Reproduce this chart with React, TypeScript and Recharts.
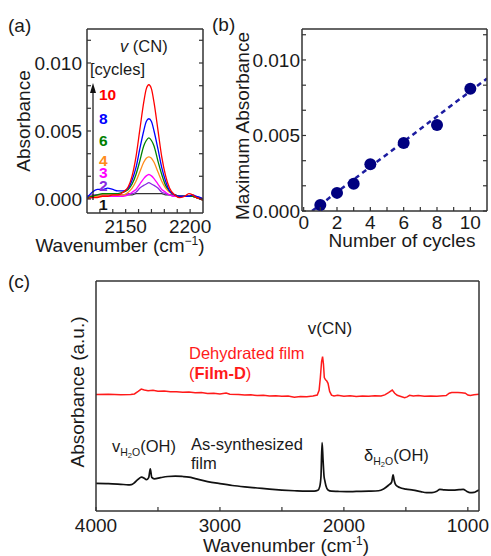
import React from 'react';
import { LineChart, ComposedChart, Line, Scatter, XAxis, YAxis } from 'recharts';

const FONT = '"Liberation Sans", Arial, Helvetica, sans-serif';
const W = 491;
const H = 556;
const FRAME = '#333333';
const TEXT = '#1a1a1a';

// ---------- Panel (a): spectra around v(CN) ----------
const WAVENUMBER_A = [2120, 2124, 2128, 2132, 2136, 2140, 2144, 2148, 2152, 2155, 2158, 2161, 2164, 2166, 2168, 2170, 2172, 2175, 2178, 2181, 2184, 2188, 2192, 2196, 2199, 2202, 2205, 2208, 2210];
const CYCLE_1 = [0.0002, 0.0002, 0.0003, 0.0003, 0.0003, 0.0003, 0.0003, 0.0003, 0.0003, 0.0003, 0.0004, 0.0004, 0.0004, 0.0004, 0.0004, 0.0004, 0.0004, 0.0004, 0.0004, 0.0003, 0.0003, 0.0003, 0.0002, 0.0002, 0.0002, 0.0002, 0.0001, 0.0, -0.0001];
const CYCLE_2 = [0.0002, 0.0003, 0.0003, 0.0003, 0.0003, 0.0003, 0.0003, 0.0003, 0.0004, 0.0004, 0.0005, 0.0008, 0.001, 0.0011, 0.0012, 0.0011, 0.001, 0.0008, 0.0005, 0.0004, 0.0003, 0.0002, 0.0002, 0.0002, 0.0002, 0.0002, 0.0001, 0.0001, 0.0];
const CYCLE_3 = [0.0001, 0.0001, 0.0002, 0.0002, 0.0002, 0.0002, 0.0002, 0.0002, 0.0003, 0.0005, 0.0007, 0.0011, 0.0015, 0.0017, 0.0018, 0.0017, 0.0015, 0.0011, 0.0007, 0.0005, 0.0003, 0.0002, 0.0002, 0.0002, 0.0002, 0.0002, 0.0001, 0.0001, 0.0];
const CYCLE_4 = [0.0001, 0.0002, 0.0002, 0.0003, 0.0003, 0.0003, 0.0003, 0.0003, 0.0005, 0.0008, 0.0013, 0.002, 0.0027, 0.003, 0.0031, 0.003, 0.0027, 0.002, 0.0013, 0.0008, 0.0005, 0.0003, 0.0002, 0.0002, 0.0002, 0.0002, 0.0001, 0.0001, 0.0];
const CYCLE_6 = [0.0001, 0.0002, 0.0003, 0.0004, 0.0004, 0.0004, 0.0004, 0.0005, 0.0007, 0.0011, 0.0018, 0.0028, 0.0039, 0.0043, 0.0045, 0.0043, 0.0039, 0.0028, 0.0018, 0.001, 0.0006, 0.0003, 0.0002, 0.0002, 0.0002, 0.0002, 0.0001, 0.0, -0.0001];
const CYCLE_8 = [0.0001, 0.0005, 0.0007, 0.0007, 0.0008, 0.0007, 0.0006, 0.0006, 0.0008, 0.0014, 0.0023, 0.0037, 0.005, 0.0057, 0.0059, 0.0057, 0.005, 0.0037, 0.0023, 0.0013, 0.0006, 0.0003, 0.0002, 0.0002, 0.0002, 0.0003, 0.0002, 0.0001, 0.0];
const CYCLE_10 = [0.0, 0.0001, 0.0001, 0.0002, 0.0002, 0.0003, 0.0003, 0.0005, 0.0009, 0.0017, 0.0031, 0.0051, 0.0071, 0.0081, 0.0084, 0.0081, 0.0071, 0.0051, 0.0031, 0.0017, 0.0008, 0.0003, 0.0001, 0.0002, 0.0004, 0.0003, 0.0001, 0.0, -0.0001];

const SERIES_A = [
  { key: 'c1', values: CYCLE_1, color: '#333333' },
  { key: 'c2', values: CYCLE_2, color: '#8a2be2' },
  { key: 'c3', values: CYCLE_3, color: '#ff00ff' },
  { key: 'c4', values: CYCLE_4, color: '#ff8c1a' },
  { key: 'c6', values: CYCLE_6, color: '#008000' },
  { key: 'c8', values: CYCLE_8, color: '#0000ff' },
  { key: 'c10', values: CYCLE_10, color: '#ff0000' },
];
const CYCLE_LABELS = ['10', '8', '6', '4', '3', '2', '1'];
const CYCLE_LABEL_COLORS = ['#ff0000', '#0000ff', '#008000', '#ff8c1a', '#ff00ff', '#8a2be2', '#111111'];

const TABLE_A = WAVENUMBER_A.map((w, i) => {
  const row: Record<string, number> = { w };
  SERIES_A.forEach((s) => {
    row[s.key] = s.values[i];
  });
  return row;
});

const DOMAIN_A_X = [2120, 2210];
const DOMAIN_A_Y = [-0.00103, 0.0125];
const TICKS_A_X = [2130, 2140, 2150, 2160, 2170, 2180, 2190, 2200];
const MAJOR_A_X = [2150, 2200];
const TICKS_ABS = [0, 0.00167, 0.00333, 0.005, 0.00667, 0.00833, 0.01, 0.01167];
const MAJOR_ABS = [0, 0.005, 0.01];

// ---------- Panel (b): max absorbance vs cycles ----------
const CYCLES = [1, 2, 3, 4, 6, 8, 10];
const MAX_ABS = [0.0004, 0.0012, 0.0018, 0.0031, 0.0045, 0.0057, 0.0081];
const FIT_X = [0.5, 11];
const FIT_Y = [0, 0.00877];
const DOMAIN_B_X = [-0.1, 11];
const DOMAIN_B_Y = [0, 0.01205];
const TICKS_B_X = [0, 1, 2, 3, 4, 5, 6, 7, 8, 9, 10];
const MAJOR_B_X = [0, 2, 4, 6, 8, 10];

const POINTS_B = CYCLES.map((c, i) => ({ x: c, y: MAX_ABS[i] }));
const FIT_B = FIT_X.map((x, i) => ({ x, y: FIT_Y[i] }));

// ---------- Panel (c): full spectra ----------
const W_BLACK = [4000, 3900, 3800, 3740, 3715, 3690, 3660, 3634, 3610, 3594, 3575, 3562, 3550, 3530, 3480, 3420, 3360, 3300, 3250, 3200, 3100, 3000, 2900, 2800, 2700, 2600, 2500, 2400, 2300, 2240, 2210, 2195, 2185, 2176, 2168, 2160, 2154, 2145, 2128, 2100, 2050, 1979, 1900, 1800, 1720, 1680, 1640, 1615, 1603, 1595, 1581, 1550, 1500, 1441, 1380, 1333, 1290, 1250, 1226, 1190, 1118, 1070, 1037, 1010, 983, 950, 930, 910];
const V_BLACK = [12.0, 11.9, 11.6, 11.4, 11.5, 12.3, 13.8, 14.7, 14.2, 13.6, 14.5, 18.3, 14.6, 14.0, 14.5, 15.0, 15.2, 15.0, 14.7, 14.1, 12.8, 11.9, 11.1, 10.5, 10.0, 9.5, 9.1, 8.8, 8.6, 8.6, 9.0, 10.6, 15.0, 29.7, 22.0, 15.0, 13.2, 11.0, 9.1, 8.6, 8.5, 8.4, 8.5, 8.6, 8.8, 9.6, 11.2, 12.5, 15.7, 13.5, 11.3, 10.2, 9.5, 9.1, 8.4, 8.0, 8.0, 8.6, 9.4, 9.2, 9.1, 9.3, 9.4, 8.6, 8.0, 8.1, 8.6, 9.1];
const W_RED = [4000, 3900, 3800, 3720, 3690, 3660, 3635, 3610, 3580, 3540, 3500, 3450, 3400, 3350, 3300, 3250, 3200, 3150, 3100, 3050, 3000, 2950, 2920, 2850, 2800, 2750, 2700, 2650, 2600, 2550, 2500, 2450, 2400, 2350, 2300, 2250, 2215, 2200, 2190, 2180, 2172, 2165, 2158, 2148, 2138, 2128, 2115, 2100, 2080, 2050, 2000, 1950, 1900, 1850, 1800, 1750, 1700, 1670, 1640, 1610, 1590, 1570, 1540, 1510, 1490, 1470, 1440, 1400, 1350, 1300, 1250, 1200, 1175, 1150, 1130, 1080, 1050, 1020, 1000, 980, 950, 910];
const V_RED = [50.6, 50.8, 50.5, 50.7, 50.9, 52.0, 53.0, 52.6, 52.3, 52.5, 52.1, 52.2, 51.8, 51.9, 51.6, 51.7, 51.4, 51.5, 51.1, 51.2, 50.9, 51.3, 50.8, 50.7, 50.4, 50.5, 50.2, 50.3, 50.0, 50.1, 49.9, 50.0, 49.5, 49.8, 49.7, 50.0, 50.4, 52.5, 58.0, 65.0, 67.1, 64.0, 58.0, 57.0, 56.5, 55.5, 52.0, 50.4, 50.0, 50.3, 49.9, 50.1, 49.8, 50.0, 49.9, 50.1, 50.0, 50.5, 51.5, 52.6, 51.2, 50.3, 49.8, 49.3, 49.6, 50.3, 50.0, 50.2, 49.9, 50.0, 49.9, 50.1, 50.2, 51.2, 51.5, 51.5, 51.4, 51.2, 50.4, 50.2, 50.5, 50.8];
const DOMAIN_C_X = [910, 4000];
const DOMAIN_C_Y = [0, 100];
const TICKS_C_X = [1000, 1500, 2000, 2500, 3000, 3500, 4000];
const MAJOR_C_X = [1000, 2000, 3000, 4000];

const BLACK_C = W_BLACK.map((w, i) => ({ w, v: V_BLACK[i] }));
const RED_C = W_RED.map((w, i) => ({ w, v: V_RED[i] }));

// ---------- helpers ----------
const fmt = (majors: number[] | null, digits: number) => (v: number) =>
  majors && majors.some((m) => Math.abs(m - v) < 1e-9) ? v.toFixed(digits) : '';

const TICK_LEN = 4;
const TICK_FONT = 19;

// Custom tick: inward tick mark drawn at the library-computed coordinate, with label outside.
function makeTick(kind: 'bottom' | 'top' | 'left' | 'right', edge: number, label: (v: number) => string, gap: number) {
  return (props: any) => {
    const { x, y, payload } = props;
    const text = label(payload.value);
    if (kind === 'bottom' || kind === 'top') {
      const dir = kind === 'bottom' ? -1 : 1;
      return (
        <g>
          <line x1={x} x2={x} y1={edge} y2={edge + dir * TICK_LEN} stroke={FRAME} strokeWidth={1.2} />
          {text && (
            <text x={x} y={edge + gap} textAnchor="middle" fontSize={TICK_FONT} fontFamily={FONT} fill={TEXT}>
              {text}
            </text>
          )}
        </g>
      );
    }
    const dir = kind === 'left' ? 1 : -1;
    return (
      <g>
        <line x1={edge} x2={edge + dir * TICK_LEN} y1={y} y2={y} stroke={FRAME} strokeWidth={1.2} />
        {text && (
          <text x={edge - gap} y={y + 6.8} textAnchor="end" fontSize={TICK_FONT} fontFamily={FONT} fill={TEXT}>
            {text}
          </text>
        )}
      </g>
    );
  };
}

const AX = {
  type: 'number' as const,
  allowDataOverflow: true,
  interval: 0 as const,
  tickLine: false,
  tickSize: 0,
  tickMargin: 0,
  axisLine: { stroke: FRAME, strokeWidth: 1.5 },
};

const abs = { position: 'absolute' as const, left: 0, top: 0 };

// plot boxes (page px)
const A_BOX = { l: 87, r: 203, t: 29, b: 213 };
const B_BOX = { l: 302, r: 487, t: 29, b: 211 };
const C_BOX = { l: 96, r: 479, t: 281, b: 511 };

function PanelA() {
  return (
    <div style={abs}>
      <LineChart width={W} height={H} data={TABLE_A} margin={{ top: A_BOX.t - 1, right: W - A_BOX.r - 1, bottom: H - A_BOX.b - 1, left: A_BOX.l - 1 }}>
        <XAxis {...AX} xAxisId="b" dataKey="w" domain={DOMAIN_A_X} ticks={TICKS_A_X} height={1} tick={makeTick('bottom', A_BOX.b, fmt(MAJOR_A_X, 0), 20)} />
        <XAxis {...AX} xAxisId="t" orientation="top" domain={DOMAIN_A_X} ticks={TICKS_A_X} height={1} tick={makeTick('top', A_BOX.t, fmt(null, 0), 0)} />
        <YAxis {...AX} yAxisId="l" domain={DOMAIN_A_Y} ticks={TICKS_ABS} width={1} tick={makeTick('left', A_BOX.l, fmt(MAJOR_ABS, 3), 5)} />
        <YAxis {...AX} yAxisId="r" orientation="right" domain={DOMAIN_A_Y} ticks={TICKS_ABS} width={1} tick={makeTick('right', A_BOX.r, fmt(null, 0), 0)} />
        {SERIES_A.map((s) => (
          <Line
            key={s.key}
            xAxisId="b"
            yAxisId="l"
            dataKey={s.key}
            type="monotone"
            stroke={s.color}
            strokeWidth={1.3}
            dot={false}
            isAnimationActive={false}
          />
        ))}
      </LineChart>
    </div>
  );
}

function PanelB() {
  return (
    <div style={abs}>
      <ComposedChart width={W} height={H} margin={{ top: B_BOX.t - 1, right: W - B_BOX.r - 1, bottom: H - B_BOX.b - 1, left: B_BOX.l - 1 }}>
        <XAxis {...AX} xAxisId="b" dataKey="x" domain={DOMAIN_B_X} ticks={TICKS_B_X} height={1} tick={makeTick('bottom', B_BOX.b, fmt(MAJOR_B_X, 0), 18)} />
        <XAxis {...AX} xAxisId="t" orientation="top" domain={DOMAIN_B_X} ticks={TICKS_B_X} height={1} tick={makeTick('top', B_BOX.t, fmt(null, 0), 0)} />
        <YAxis {...AX} yAxisId="l" dataKey="y" domain={DOMAIN_B_Y} ticks={TICKS_ABS} width={1} tick={makeTick('left', B_BOX.l, fmt(MAJOR_ABS, 3), 2)} />
        <YAxis {...AX} yAxisId="r" orientation="right" domain={DOMAIN_B_Y} ticks={TICKS_ABS} width={1} tick={makeTick('right', B_BOX.r, fmt(null, 0), 0)} />
        <Line
          xAxisId="b"
          yAxisId="l"
          data={FIT_B}
          dataKey="y"
          type="linear"
          stroke="#1c1ca0"
          strokeWidth={2.5}
          strokeDasharray="5 4"
          dot={false}
          isAnimationActive={false}
        />
        <Scatter
          xAxisId="b"
          yAxisId="l"
          data={POINTS_B}
          dataKey="y"
          fill="#000080"
          isAnimationActive={false}
          shape={(p: any) => <circle cx={p.cx} cy={p.cy} r={6} fill="#000080" />}
        />
      </ComposedChart>
    </div>
  );
}

function PanelC() {
  return (
    <div style={abs}>
      <LineChart width={W} height={H} margin={{ top: C_BOX.t - 1, right: W - C_BOX.r - 1, bottom: H - C_BOX.b - 1, left: C_BOX.l - 1 }}>
        <XAxis {...AX} xAxisId="b" dataKey="w" reversed domain={DOMAIN_C_X} ticks={TICKS_C_X} height={1} tick={makeTick('bottom', C_BOX.b, fmt(MAJOR_C_X, 0), 21)} />
        <XAxis {...AX} xAxisId="t" orientation="top" reversed domain={DOMAIN_C_X} ticks={TICKS_C_X} height={1} tick={makeTick('top', C_BOX.t, fmt(null, 0), 0)} />
        <YAxis {...AX} yAxisId="l" domain={DOMAIN_C_Y} ticks={[50]} width={1} tick={false} />
        <YAxis {...AX} yAxisId="r" orientation="right" domain={DOMAIN_C_Y} ticks={[50]} width={1} tick={false} />
        <Line xAxisId="b" yAxisId="l" data={BLACK_C} dataKey="v" type="monotone" stroke="#111111" strokeWidth={1.7} dot={false} isAnimationActive={false} />
        <Line xAxisId="b" yAxisId="l" data={RED_C} dataKey="v" type="linear" stroke="#ff1a1a" strokeWidth={1.5} dot={false} isAnimationActive={false} />
      </LineChart>
    </div>
  );
}

const CYCLE_LABEL_Y = [100, 124, 146, 166, 178, 190.5, 210];

function Overlay() {
  const t = { fontFamily: FONT, fill: TEXT };
  return (
    <svg width={W} height={H} style={{ ...abs, pointerEvents: 'none' }}>
      {/* panel labels */}
      <text x={8} y={32} fontSize={19} {...t}>(a)</text>
      <text x={212} y={31} fontSize={19} {...t}>(b)</text>
      <text x={8} y={288} fontSize={19} {...t}>(c)</text>

      {/* panel (a) */}
      <text transform="translate(30,121) rotate(-90)" textAnchor="middle" fontSize={19} {...t}>Absorbance</text>
      <text x={120} y={252} textAnchor="middle" fontSize={19} {...t}>
        Wavenumber (cm<tspan dy={-7} fontSize={12}>−1</tspan><tspan dy={7}>)</tspan>
      </text>
      <text x={120} y={52} fontSize={16.5} {...t}>
        <tspan fontStyle="italic">v</tspan> (CN)
      </text>
      <text x={90} y={75} fontSize={16.5} {...t}>[cycles]</text>
      <line x1={93} y1={92} x2={93} y2={200} stroke="#111" strokeWidth={1.2} />
      <polygon points="93,83 90,93 96,93" fill="#111" />
      {CYCLE_LABELS.map((label, i) => (
        <text key={label} x={99} y={CYCLE_LABEL_Y[i]} fontSize={15.5} fontWeight="bold" fontFamily={FONT} fill={CYCLE_LABEL_COLORS[i]}>
          {label}
        </text>
      ))}

      {/* panel (b) */}
      <text transform="translate(249,126) rotate(-90)" textAnchor="middle" fontSize={19} {...t}>Maximum Absorbance</text>
      <text x={402} y={247} textAnchor="middle" fontSize={19} {...t}>Number of cycles</text>

      {/* panel (c) */}
      <text transform="translate(84,392) rotate(-90)" textAnchor="middle" fontSize={19} {...t}>Absorbance (a.u.)</text>
      <text x={286} y={552} textAnchor="middle" fontSize={19} {...t}>
        Wavenumber (cm<tspan dy={-7} fontSize={12}>-1</tspan><tspan dy={7}>)</tspan>
      </text>
      <text x={330} y={334} textAnchor="middle" fontSize={17} {...t}>v(CN)</text>
      <text x={189} y={359} fontSize={16.5} fontFamily={FONT} fill="#ff1a1a">Dehydrated film</text>
      <text x={189} y={379} fontSize={16.5} fontFamily={FONT} fill="#ff1a1a">
        (<tspan fontWeight="bold">Film-D</tspan>)
      </text>
      <text x={191} y={450} fontSize={16.5} {...t}>As-synthesized</text>
      <text x={191} y={469} fontSize={16.5} {...t}>film</text>
      <text x={112} y={452} fontSize={16.5} {...t}>
        v<tspan dy={4} fontSize={10.5}>H</tspan><tspan dy={2} fontSize={7.5}>2</tspan><tspan dy={-2} fontSize={10.5}>O</tspan><tspan dy={-4}>(OH)</tspan>
      </text>
      <text x={364} y={461} fontSize={16.5} {...t}>
        δ<tspan dy={4} fontSize={10.5}>H</tspan><tspan dy={2} fontSize={7.5}>2</tspan><tspan dy={-2} fontSize={10.5}>O</tspan><tspan dy={-4}>(OH)</tspan>
      </text>
    </svg>
  );
}

export default function App() {
  return (
    <div style={{ position: 'absolute', left: 0, top: 0, width: W, height: H, background: '#ffffff', overflow: 'hidden' }}>
      <PanelA />
      <PanelB />
      <PanelC />
      <Overlay />
    </div>
  );
}
